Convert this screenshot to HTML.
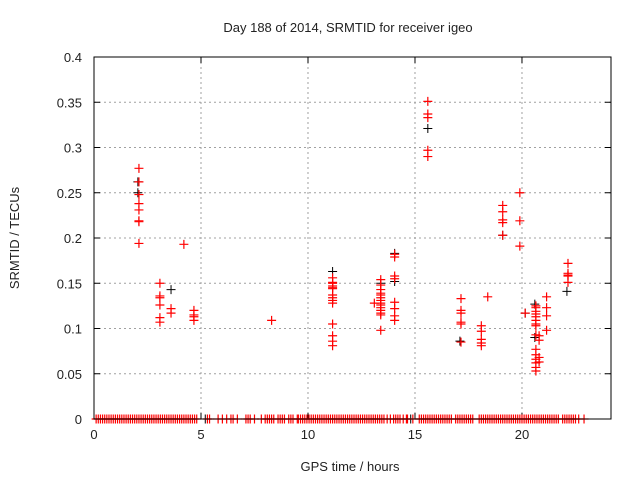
<!DOCTYPE html>
<html><head><meta charset="utf-8"><style>
body{margin:0;background:#fff}
svg text{font-family:"Liberation Sans",sans-serif;font-size:13px;fill:#222}
</style></head><body>
<svg id="chart" width="640" height="480" xmlns="http://www.w3.org/2000/svg">
<rect width="640" height="480" fill="#fff"/>
<text x="348" y="32" text-anchor="middle">Day 188 of 2014, SRMTID for receiver igeo</text>
<text transform="translate(19,238) rotate(-90)" text-anchor="middle">SRMTID / TECUs</text>
<text x="350" y="471" text-anchor="middle">GPS time / hours</text>
<g id="grid"></g><g id="ticks"></g><g id="marks"></g>
<rect x="94" y="57" width="517" height="362" fill="none" stroke="#000" stroke-width="1"/>
</svg>
<script>
const xTicks=[0,5,10,15,20];
const yTicks=[0,0.05,0.1,0.15,0.2,0.25,0.3,0.35,0.4];
const yTickLabels=["0","0.05","0.1","0.15","0.2","0.25","0.3","0.35","0.4"];
const redTimes=[2.1,2.1,2.1,2.1,2.1,2.1,2.1,2.1,3.08,3.08,3.08,3.08,3.08,3.08,3.6,3.6,4.2,4.67,4.67,4.67,4.67,8.3,
11.15,11.15,11.15,11.15,11.15,11.15,11.15,11.15,11.15,11.15,11.15,11.15,11.15,11.15,13.1,
13.4,13.4,13.4,13.4,13.4,13.4,13.4,13.4,13.4,13.4,13.4,13.4,13.4,13.4,
14.05,14.05,14.05,14.05,14.05,14.05,14.05,14.05,15.6,15.6,15.6,15.6,15.6,
19.1,19.1,19.1,19.1,19.1,19.9,19.9,19.9,22.15,22.15,22.15,22.15,22.15,
17.15,17.15,17.15,17.15,17.15,17.15,18.1,18.1,18.1,18.1,18.1,18.4,20.15,
20.65,20.65,20.65,20.65,20.65,20.65,20.65,20.65,20.65,20.65,20.65,20.65,20.65,20.65,20.65,
20.8,20.8,20.8,20.8,21.15,21.15,21.15,21.15];
const redValues=[0.277,0.262,0.248,0.238,0.231,0.219,0.218,0.194,0.150,0.136,0.134,0.126,0.112,0.107,0.122,0.117,0.193,0.120,0.115,0.113,0.109,0.109,
0.156,0.151,0.150,0.147,0.145,0.144,0.137,0.134,0.131,0.128,0.105,0.092,0.086,0.081,0.128,
0.154,0.148,0.143,0.139,0.137,0.134,0.131,0.128,0.126,0.123,0.120,0.117,0.115,0.098,
0.182,0.179,0.158,0.155,0.129,0.122,0.114,0.109,0.351,0.337,0.333,0.297,0.290,
0.236,0.229,0.220,0.217,0.203,0.250,0.219,0.191,0.172,0.161,0.159,0.158,0.151,
0.133,0.120,0.117,0.107,0.105,0.085,0.103,0.097,0.088,0.084,0.081,0.135,0.117,
0.125,0.123,0.119,0.116,0.113,0.109,0.105,0.103,0.093,0.077,0.071,0.066,0.062,0.057,0.053,
0.092,0.087,0.068,0.063,0.135,0.123,0.114,0.098];
const blackTimes=[2.05,2.05,3.6,11.15,13.4,14.05,14.05,15.6,17.1,19.1,20.15,20.6,22.1,20.6,5.2,14.8];
const blackValues=[0.262,0.25,0.143,0.163,0.15,0.183,0.152,0.321,0.086,0.203,0.117,0.09,0.141,0.127,0,0];
const zeroTimes=[0.1,0.2,0.3,0.4,0.5,0.6,0.7,0.8,0.9,1.0,1.1,1.2,1.3,1.4,1.5,1.6,1.7,1.8,1.9,2.0,2.1,2.2,2.3,2.4,2.5,2.6,2.7,2.8,2.9,3.0,3.1,3.2,3.3,3.4,3.5,3.6,3.7,3.8,3.9,4.0,4.1,4.2,4.3,4.4,4.5,4.6,4.7,4.8,
5.3,5.4,5.8,6.0,6.2,6.4,6.5,6.7,7.1,7.2,7.3,7.5,7.82,8.0,8.1,8.2,8.3,8.4,8.6,8.7,8.8,8.9,9.1,9.2,9.3,9.5,9.55,
9.65,9.75,9.85,9.95,10.05,10.15,10.25,10.35,10.45,10.55,10.65,10.75,10.85,10.95,11.05,11.15,11.25,11.35,11.45,11.55,11.65,11.75,11.85,11.95,12.05,12.15,12.25,12.35,12.45,12.55,12.65,12.75,12.85,12.95,13.05,13.15,13.25,13.35,13.45,13.55,13.7,13.85,14.0,14.1,14.2,14.3,14.45,14.6,14.65,14.9,
15.2,15.3,15.4,15.5,15.6,15.7,15.8,15.9,16.0,16.1,16.2,16.3,16.4,16.5,16.6,16.7,16.9,17.0,17.1,17.2,17.3,17.4,17.5,17.6,17.7,
18.0,18.1,18.2,18.3,18.4,18.5,18.6,18.7,18.8,18.9,19.0,19.1,19.2,19.3,19.4,19.5,19.6,19.7,19.8,19.9,20.0,20.1,20.2,20.3,20.4,20.5,20.6,20.7,20.8,20.9,21.0,21.1,21.2,21.3,21.4,21.5,21.6,21.7,
21.9,22.0,22.1,22.2,22.3,22.4,22.5,22.65,22.9];
const X0=94,X1=611,XMAX=24.16,Y0=419,Y1=57,YMAX=0.4;
const xs=v=>X0+(X1-X0)*v/XMAX, ys=v=>Y0-(Y0-Y1)*v/YMAX;
const NS="http://www.w3.org/2000/svg";
function mk(tag,parent,attrs){const e=document.createElementNS(NS,tag);for(const k in attrs)e.setAttribute(k,attrs[k]);parent.appendChild(e);return e;}
const grid=document.getElementById('grid'),ticks=document.getElementById('ticks'),marks=document.getElementById('marks');
xTicks.forEach(t=>{const x=xs(t);
 if(t>0){const g=mk('line',grid,{x1:x,x2:x,y1:Y1,y2:Y0,stroke:'#a0a0a0','stroke-dasharray':'2,3'});
 
 }
 mk('line',ticks,{x1:x,x2:x,y1:Y0,y2:Y0-6,stroke:'#000'});mk('line',ticks,{x1:x,x2:x,y1:Y1,y2:Y1+6,stroke:'#000'});
 const l=mk('text',ticks,{x:x,y:Y0+20,'text-anchor':'middle'});l.textContent=t;
 
 });
yTicks.forEach((t,i)=>{const y=ys(t);
 if(t>0&&t<YMAX){const g=mk('line',grid,{x1:X0,x2:X1,y1:y,y2:y,stroke:'#a0a0a0','stroke-dasharray':'2,3'});
 
 }
 mk('line',ticks,{x1:X0,x2:X0+6,y1:y,y2:y,stroke:'#000'});mk('line',ticks,{x1:X1,x2:X1-6,y1:y,y2:y,stroke:'#000'});
 const l=mk('text',ticks,{x:X0-12,y:y+5,'text-anchor':'end'});l.textContent=yTickLabels[i];
 
 });
function plus(x,y,c,name,w){const p=mk('path',marks,{d:`M${x-4.5},${y}h9M${x},${y-4.5}v9`,stroke:c,'stroke-width':w});
 
 }
blackTimes.forEach((t,i)=>plus(xs(t),ys(blackValues[i]),'#000','black-point',1));
zeroTimes.forEach(t=>plus(xs(t),ys(0),'#f00','zero-point',1.2));
redTimes.forEach((t,i)=>plus(xs(t),ys(redValues[i]),'#f00','srmtid-point',1.2));
</script>
</body></html>
